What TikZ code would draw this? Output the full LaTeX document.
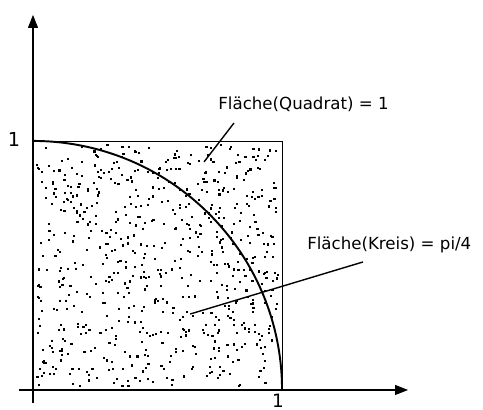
\documentclass[tikz,border=0pt]{standalone}
\usepackage{fontspec}
\setsansfont{DejaVu Sans}
\usepackage{tikz}
\usetikzlibrary{arrows.meta,positioning}
\tikzset{
  mcaxis/.style={-{Triangle[length=2.6mm,width=2mm]}, line width=.6pt},
  mcbox/.style={draw, line width=.5pt},
  mcarc/.style={line width=1.1pt},
  mcdot/.style={fill=black, draw=none},
  mclabel/.style={font=\sffamily\fontsize{9.5}{11}\selectfont, anchor=west, inner sep=0pt},
  mcpointer/.style={line width=.8pt}
}

\begin{document}
\begin{tikzpicture}[x=5cm, y=5cm]
  \useasboundingbox (-0.1325,-0.0803) rectangle (1.807,1.566);
  % axes
  \coordinate (xs) at (-0.056,0);
  \coordinate (xe) at (1.506,0);
  \coordinate (ys) at (0,-0.052);
  \coordinate (ye) at (0,1.506);
  \draw[mcaxis] (xs) -- (xe);
  \draw[mcaxis] (ys) -- (ye);
  \node[font=\sffamily\fontsize{11}{12}\selectfont, inner sep=0pt] (one-y) at (-0.076,1.006) {1};
  \node[font=\sffamily\fontsize{10.5}{12}\selectfont, inner sep=0pt] (one-x) at (0.984,-0.042) {1};

  % random points
  \pgfmathsetseed{4711}
  \foreach \i in {1,...,700} {
    \pgfmathsetmacro{\px}{0.01+0.97*rnd}
    \pgfmathsetmacro{\py}{0.01+0.97*rnd}
    \fill[mcdot] (\px,\py) rectangle ++(0.0085,0.0085);
  }

  % square and quarter circle
  \draw[mcbox] (0,0) rectangle (1,1);
  \draw[mcarc] (0,1) arc[start angle=90, end angle=0, radius=1];

  % labels
  \node[mclabel] (quadrat) at (0.743,1.149) {Fläche(Quadrat) = 1};
  \node[mclabel] (kreis) at (1.100,0.582) {Fläche(Kreis) = pi/4};
  \coordinate (q-from) at (0.807,1.072);
  \coordinate (q-to) at (0.687,0.916);
  \coordinate (k-from) at (1.325,0.514);
  \coordinate (k-to) at (0.631,0.305);
  \draw[mcpointer] (q-from) -- (q-to);
  \draw[mcpointer] (k-from) -- (k-to);
\end{tikzpicture}
\end{document}
